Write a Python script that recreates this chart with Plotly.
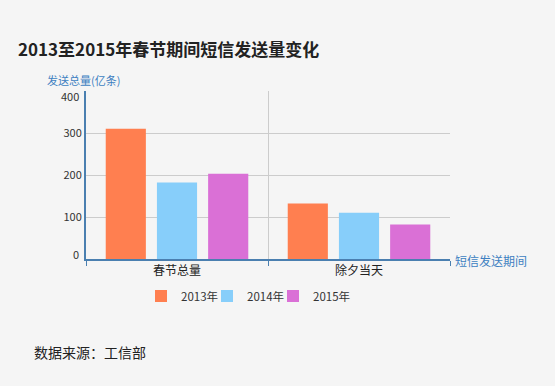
import plotly.graph_objects as go

categories = ["春节总量", "除夕当天"]
series_names = ["2013年", "2014年", "2015年"]
values_2013 = [310, 132]
values_2014 = [182, 110]
values_2015 = [203, 82]
colors = ["#ff7f50", "#87cefa", "#da70d6"]
y_ticks = [0, 100, 200, 300, 400]

FONT = "Noto Sans CJK SC"
AXIS_BLUE = "#4a7fb0"
NAME_BLUE = "#3d7fc1"
BG = "#f5f5f5"
OFF = 8  # browser default body margin

# plot area in page pixels
PL, PR, PT, PB = 86, 450, 91, 259
W, H = 555, 386


def px(xp):
    return (xp - PL) / (PR - PL)


def py(yp):
    return (PB - yp) / (PB - PT)


legend_ids = ["legend", "legend2", "legend3"]
legend_x = [141, 207, 273]

fig = go.Figure()
for name, vals, col, lid in zip(series_names, [values_2013, values_2014, values_2015], colors, legend_ids):
    fig.add_trace(go.Bar(x=categories, y=vals, name=name, legend=lid,
                         marker=dict(color=col, line=dict(width=0))))

end_ticks = [y_ticks[0], y_ticks[-1]]
tick_text = ["" if t in end_ticks else str(t) for t in y_ticks]

legend_layout = {}
for lid, lx in zip(legend_ids, legend_x):
    legend_layout[lid] = dict(orientation="h", x=px(lx), xanchor="left", y=py(296), yanchor="middle",
                              font=dict(size=11.5, color="#333333"), bgcolor="rgba(0,0,0,0)",
                              itemwidth=30)

fig.update_layout(
    width=W, height=H,
    margin=dict(l=PL - OFF, r=W - (PR - OFF), t=PT - OFF, b=H - (PB - OFF), autoexpand=False),
    paper_bgcolor=BG, plot_bgcolor=BG,
    barmode="group", bargap=0.156, bargroupgap=0.216,
    font=dict(family=FONT, size=11, color="#333333"),
    showlegend=True,
    xaxis=dict(type="category", tickson="boundaries", ticks="outside", ticklen=5,
               tickcolor=AXIS_BLUE, tickwidth=1,
               showline=True, linecolor=AXIS_BLUE, linewidth=2,
               showgrid=True, gridcolor="#cccccc", gridwidth=1,
               tickfont=dict(size=12, color="#222222"), range=[-0.5, 1.5]),
    yaxis=dict(range=[0, 400], tickvals=y_ticks, ticktext=tick_text, showline=True,
               linecolor=AXIS_BLUE, linewidth=2,
               showgrid=True, gridcolor="#cccccc", gridwidth=1, zeroline=False,
               ticks="", tickfont=dict(size=11, color="#333333")),
    **legend_layout,
)

# end tick labels nudged inward like the original
for t, shift in [(y_ticks[-1], -5), (y_ticks[0], 5)]:
    fig.add_annotation(text=str(t), xref="paper", yref="y", x=0, y=t, xanchor="right",
                       yanchor="middle", xshift=-5, yshift=shift, showarrow=False,
                       font=dict(size=11, color="#333333", family=FONT))

fig.add_annotation(text="<b>2013至2015年春节期间短信发送量变化</b>", xref="paper", yref="paper",
                   x=px(16), y=py(48), xanchor="left", yanchor="middle",
                   showarrow=False, font=dict(size=17, color="#222222", family=FONT))
fig.add_annotation(text="发送总量(亿条)", xref="paper", yref="paper",
                   x=px(45), y=py(80), xanchor="left", yanchor="middle",
                   showarrow=False, font=dict(size=11, color=NAME_BLUE, family=FONT))
fig.add_annotation(text="短信发送期间", xref="paper", yref="paper",
                   x=px(453), y=py(260), xanchor="left", yanchor="middle",
                   showarrow=False, font=dict(size=12, color=NAME_BLUE, family=FONT))
fig.add_annotation(text="数据来源：工信部", xref="paper", yref="paper",
                   x=px(32), y=py(352), xanchor="left", yanchor="middle",
                   showarrow=False, font=dict(size=14, color="#222222", family=FONT))

fig.write_html("out.html", post_script=f"document.body.style.background='{BG}';")
